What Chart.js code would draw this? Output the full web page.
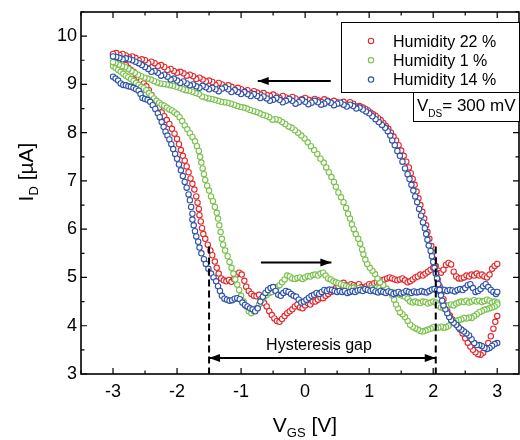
<!DOCTYPE html>
<html>
<head>
<meta charset="utf-8">
<script src="https://cdn.jsdelivr.net/npm/chart.js@4"></script>
<style>
  html, body { margin: 0; padding: 0; background: #fff; }
  #wrap { width: 520px; height: 440px; }
</style>
</head>
<body>
<div id="wrap"><canvas id="chart" width="520" height="440"></canvas></div>
<script>
// ------------------------------------------------------------
// ID vs VGS hysteresis loops for three humidity levels
// ------------------------------------------------------------

const FONT = "'Liberation Sans', Arial, sans-serif";

const seriesLabels = ["Humidity 22 %", "Humidity 1 %", "Humidity 14 %"];
const seriesColors = ["#e3282b", "#79c14b", "#2f52aa"];

const xTicks = [-3, -2, -1, 0, 1, 2, 3];
const yTicks = [3, 4, 5, 6, 7, 8, 9, 10];

// [VGS (V), ID (uA)] - forward sweep (-3 -> 3), low branch
const h22Fwd = [[-3.00,9.62],[-2.96,9.60],[-2.92,9.55],[-2.88,9.50],[-2.84,9.45],[-2.80,9.40],[-2.76,9.34],[-2.72,9.30],[-2.68,9.26],[-2.64,9.20],[-2.60,9.14],[-2.56,9.08],[-2.52,9.02],[-2.48,8.96],[-2.44,8.88],[-2.40,8.78],[-2.36,8.69],[-2.32,8.60],[-2.28,8.52],[-2.24,8.42],[-2.20,8.34],[-2.16,8.26],[-2.12,8.18],[-2.08,8.08],[-2.04,7.98],[-2.00,7.87],[-1.97,7.76],[-1.94,7.64],[-1.91,7.52],[-1.88,7.42],[-1.85,7.30],[-1.82,7.18],[-1.79,7.05],[-1.76,6.94],[-1.73,6.82],[-1.70,6.68],[-1.68,6.55],[-1.66,6.42],[-1.65,6.29],[-1.63,6.16],[-1.61,6.02],[-1.59,5.90],[-1.56,5.80],[-1.52,5.68],[-1.48,5.56],[-1.45,5.46],[-1.41,5.33],[-1.38,5.20],[-1.35,5.08],[-1.31,4.98],[-1.27,4.94],[-1.23,4.92],[-1.19,4.95],[-1.15,4.91],[-1.11,4.97],[-1.07,5.06],[-1.03,5.10],[-0.99,5.06],[-0.95,4.93],[-0.92,4.81],[-0.88,4.72],[-0.84,4.66],[-0.80,4.62],[-0.76,4.61],[-0.72,4.64],[-0.68,4.56],[-0.64,4.47],[-0.60,4.40],[-0.56,4.30],[-0.52,4.22],[-0.48,4.15],[-0.44,4.10],[-0.40,4.08],[-0.36,4.14],[-0.32,4.20],[-0.28,4.26],[-0.24,4.30],[-0.20,4.34],[-0.16,4.40],[-0.12,4.44],[-0.08,4.38],[-0.04,4.36],[0.00,4.42],[0.04,4.47],[0.08,4.44],[0.12,4.50],[0.16,4.50],[0.20,4.54],[0.24,4.58],[0.28,4.57],[0.32,4.62],[0.36,4.66],[0.40,4.70],[0.44,4.72],[0.48,4.78],[0.52,4.82],[0.56,4.86],[0.60,4.89],[0.64,4.84],[0.68,4.82],[0.72,4.86],[0.76,4.84],[0.80,4.82],[0.84,4.86],[0.88,4.80],[0.92,4.78],[0.96,4.82],[1.00,4.86],[1.04,4.84],[1.08,4.88],[1.12,4.90],[1.16,4.88],[1.20,4.94],[1.24,4.96],[1.28,4.98],[1.32,5.00],[1.36,4.98],[1.40,4.96],[1.44,4.94],[1.48,4.96],[1.52,4.98],[1.56,4.94],[1.60,4.90],[1.64,4.92],[1.68,4.96],[1.72,5.00],[1.76,5.02],[1.80,5.06],[1.84,5.04],[1.88,5.08],[1.92,5.12],[1.96,5.16],[2.00,5.20],[2.04,5.24],[2.08,5.14],[2.12,5.10],[2.16,5.16],[2.20,5.26],[2.24,5.30],[2.28,5.27],[2.32,5.12],[2.36,5.02],[2.40,4.98],[2.44,4.98],[2.48,5.00],[2.52,5.04],[2.56,5.02],[2.60,5.06],[2.64,5.04],[2.68,5.08],[2.72,5.04],[2.76,5.06],[2.80,5.02],[2.84,5.00],[2.88,5.06],[2.92,5.18],[2.96,5.24],[3.00,5.28]];
// backward sweep (3 -> -3), high branch
const h22Bwd = [[3.00,4.20],[2.97,4.08],[2.94,3.94],[2.90,3.78],[2.86,3.64],[2.82,3.52],[2.78,3.44],[2.74,3.40],[2.70,3.41],[2.66,3.45],[2.62,3.50],[2.58,3.57],[2.54,3.65],[2.50,3.74],[2.46,3.84],[2.42,3.92],[2.38,4.00],[2.34,4.07],[2.30,4.13],[2.26,4.21],[2.22,4.30],[2.19,4.42],[2.16,4.55],[2.13,4.68],[2.10,4.82],[2.07,4.96],[2.05,5.10],[2.03,5.24],[2.01,5.38],[1.99,5.52],[1.97,5.65],[1.94,5.80],[1.91,5.94],[1.89,6.08],[1.86,6.22],[1.83,6.36],[1.80,6.50],[1.77,6.64],[1.74,6.78],[1.71,6.92],[1.68,7.04],[1.65,7.16],[1.62,7.28],[1.58,7.40],[1.54,7.52],[1.50,7.63],[1.46,7.74],[1.42,7.84],[1.38,7.92],[1.34,8.00],[1.30,8.08],[1.26,8.14],[1.22,8.20],[1.18,8.26],[1.14,8.30],[1.10,8.35],[1.06,8.38],[1.02,8.42],[0.98,8.46],[0.94,8.49],[0.90,8.52],[0.85,8.55],[0.80,8.54],[0.75,8.60],[0.70,8.63],[0.65,8.58],[0.60,8.64],[0.55,8.61],[0.50,8.63],[0.45,8.66],[0.40,8.62],[0.35,8.66],[0.30,8.69],[0.25,8.64],[0.20,8.67],[0.15,8.70],[0.10,8.66],[0.05,8.68],[0.00,8.72],[-0.05,8.69],[-0.10,8.66],[-0.15,8.71],[-0.20,8.74],[-0.25,8.70],[-0.30,8.73],[-0.35,8.76],[-0.40,8.72],[-0.45,8.75],[-0.50,8.79],[-0.55,8.76],[-0.60,8.78],[-0.65,8.82],[-0.70,8.79],[-0.75,8.83],[-0.80,8.86],[-0.85,8.82],[-0.90,8.88],[-0.95,8.86],[-1.00,8.90],[-1.05,8.93],[-1.10,8.89],[-1.15,8.95],[-1.20,8.98],[-1.25,8.94],[-1.30,9.00],[-1.35,9.03],[-1.40,8.99],[-1.45,9.05],[-1.50,9.08],[-1.55,9.06],[-1.60,9.10],[-1.65,9.14],[-1.70,9.11],[-1.75,9.17],[-1.80,9.20],[-1.85,9.18],[-1.90,9.23],[-1.95,9.26],[-2.00,9.24],[-2.05,9.28],[-2.10,9.32],[-2.15,9.30],[-2.20,9.36],[-2.25,9.40],[-2.30,9.38],[-2.35,9.44],[-2.40,9.47],[-2.45,9.44],[-2.50,9.50],[-2.55,9.52],[-2.60,9.50],[-2.65,9.55],[-2.70,9.58],[-2.75,9.56],[-2.80,9.60],[-2.85,9.63],[-2.90,9.61],[-2.95,9.65],[-3.00,9.63]];

const h1Fwd = [[-3.00,9.38],[-2.96,9.34],[-2.92,9.30],[-2.88,9.26],[-2.84,9.22],[-2.80,9.18],[-2.76,9.15],[-2.72,9.11],[-2.68,9.07],[-2.64,9.03],[-2.60,8.99],[-2.56,8.95],[-2.52,8.92],[-2.48,8.88],[-2.44,8.82],[-2.40,8.77],[-2.36,8.71],[-2.32,8.66],[-2.28,8.62],[-2.24,8.58],[-2.20,8.56],[-2.16,8.52],[-2.12,8.48],[-2.08,8.46],[-2.04,8.42],[-2.00,8.38],[-1.96,8.32],[-1.92,8.24],[-1.88,8.15],[-1.84,8.07],[-1.80,7.99],[-1.76,7.91],[-1.72,7.82],[-1.69,7.72],[-1.66,7.62],[-1.64,7.50],[-1.62,7.38],[-1.60,7.26],[-1.58,7.14],[-1.56,7.02],[-1.53,6.90],[-1.50,6.80],[-1.47,6.68],[-1.44,6.58],[-1.41,6.46],[-1.38,6.34],[-1.36,6.22],[-1.34,6.08],[-1.32,5.94],[-1.30,5.80],[-1.28,5.68],[-1.25,5.56],[-1.21,5.44],[-1.18,5.32],[-1.15,5.20],[-1.12,5.08],[-1.09,4.96],[-1.06,4.85],[-1.03,4.74],[-1.00,4.62],[-0.96,4.50],[-0.92,4.40],[-0.88,4.30],[-0.84,4.26],[-0.80,4.30],[-0.76,4.36],[-0.72,4.44],[-0.68,4.54],[-0.64,4.60],[-0.60,4.64],[-0.56,4.68],[-0.52,4.70],[-0.48,4.74],[-0.44,4.80],[-0.40,4.84],[-0.36,4.90],[-0.32,4.96],[-0.28,5.04],[-0.24,5.02],[-0.20,4.98],[-0.16,4.97],[-0.12,4.99],[-0.08,5.00],[-0.04,4.97],[0.00,5.00],[0.04,5.03],[0.08,5.02],[0.12,5.05],[0.16,5.06],[0.20,5.04],[0.24,5.08],[0.28,5.10],[0.32,5.04],[0.36,4.98],[0.40,4.96],[0.44,4.92],[0.48,4.90],[0.52,4.88],[0.56,4.86],[0.60,4.84],[0.64,4.82],[0.68,4.80],[0.72,4.78],[0.76,4.79],[0.80,4.76],[0.84,4.78],[0.88,4.75],[0.92,4.74],[0.96,4.76],[1.00,4.74],[1.04,4.78],[1.08,4.76],[1.12,4.79],[1.16,4.78],[1.20,4.74],[1.24,4.72],[1.28,4.74],[1.32,4.70],[1.36,4.70],[1.40,4.68],[1.44,4.66],[1.48,4.64],[1.52,4.62],[1.56,4.60],[1.60,4.56],[1.64,4.50],[1.68,4.48],[1.72,4.50],[1.76,4.48],[1.80,4.47],[1.84,4.50],[1.88,4.49],[1.92,4.46],[1.96,4.48],[2.00,4.50],[2.04,4.48],[2.08,4.42],[2.12,4.38],[2.16,4.36],[2.20,4.40],[2.24,4.42],[2.28,4.44],[2.32,4.42],[2.36,4.46],[2.40,4.48],[2.44,4.50],[2.48,4.49],[2.52,4.52],[2.56,4.48],[2.60,4.50],[2.64,4.53],[2.68,4.50],[2.72,4.52],[2.76,4.49],[2.80,4.51],[2.84,4.54],[2.88,4.52],[2.92,4.48],[2.96,4.50],[3.00,4.48]];
const h1Bwd = [[3.00,4.44],[2.96,4.40],[2.92,4.38],[2.88,4.36],[2.84,4.34],[2.80,4.33],[2.76,4.30],[2.72,4.28],[2.68,4.24],[2.64,4.20],[2.60,4.16],[2.56,4.17],[2.52,4.15],[2.48,4.16],[2.44,4.13],[2.40,4.12],[2.36,4.10],[2.32,4.08],[2.28,4.05],[2.24,4.00],[2.20,3.97],[2.16,3.96],[2.12,3.98],[2.08,3.96],[2.04,3.95],[2.00,3.97],[1.96,3.94],[1.92,3.92],[1.88,3.90],[1.84,3.88],[1.80,3.89],[1.76,3.92],[1.72,3.95],[1.68,3.98],[1.64,4.02],[1.60,4.10],[1.56,4.18],[1.52,4.24],[1.48,4.28],[1.45,4.36],[1.42,4.44],[1.39,4.54],[1.36,4.63],[1.32,4.70],[1.27,4.77],[1.22,4.84],[1.17,4.90],[1.13,4.98],[1.09,5.07],[1.05,5.14],[1.01,5.20],[0.97,5.28],[0.94,5.37],[0.91,5.48],[0.89,5.58],[0.86,5.70],[0.83,5.80],[0.79,5.90],[0.76,6.00],[0.73,6.10],[0.70,6.22],[0.67,6.32],[0.64,6.44],[0.60,6.56],[0.56,6.66],[0.52,6.76],[0.48,6.88],[0.45,6.98],[0.41,7.08],[0.37,7.18],[0.33,7.28],[0.29,7.38],[0.24,7.46],[0.19,7.56],[0.14,7.64],[0.09,7.72],[0.04,7.80],[-0.01,7.88],[-0.06,7.94],[-0.11,8.00],[-0.16,8.05],[-0.21,8.10],[-0.26,8.13],[-0.31,8.18],[-0.36,8.22],[-0.41,8.26],[-0.46,8.28],[-0.51,8.27],[-0.56,8.32],[-0.61,8.35],[-0.66,8.37],[-0.71,8.40],[-0.76,8.43],[-0.81,8.45],[-0.86,8.47],[-0.91,8.50],[-0.96,8.52],[-1.01,8.53],[-1.06,8.55],[-1.11,8.58],[-1.16,8.60],[-1.21,8.62],[-1.26,8.63],[-1.31,8.64],[-1.36,8.66],[-1.41,8.68],[-1.46,8.70],[-1.51,8.71],[-1.56,8.73],[-1.61,8.75],[-1.66,8.80],[-1.71,8.82],[-1.76,8.85],[-1.81,8.87],[-1.86,8.88],[-1.91,8.90],[-1.96,8.93],[-2.01,8.95],[-2.06,8.97],[-2.11,8.98],[-2.16,9.00],[-2.21,9.01],[-2.26,9.02],[-2.31,9.04],[-2.36,9.07],[-2.41,9.10],[-2.46,9.12],[-2.51,9.14],[-2.56,9.17],[-2.61,9.20],[-2.66,9.24],[-2.71,9.28],[-2.76,9.32],[-2.81,9.36],[-2.86,9.38],[-2.91,9.41],[-2.96,9.44],[-3.00,9.46]];

const h14Fwd = [[-3.00,9.16],[-2.96,9.12],[-2.92,9.08],[-2.88,9.02],[-2.84,8.99],[-2.80,8.98],[-2.76,8.96],[-2.72,8.95],[-2.68,8.93],[-2.64,8.90],[-2.60,8.87],[-2.57,8.80],[-2.54,8.72],[-2.50,8.70],[-2.46,8.68],[-2.42,8.64],[-2.38,8.57],[-2.34,8.49],[-2.30,8.40],[-2.27,8.32],[-2.24,8.22],[-2.21,8.12],[-2.18,8.02],[-2.15,7.94],[-2.12,7.86],[-2.09,7.76],[-2.06,7.66],[-2.03,7.56],[-2.00,7.46],[-1.97,7.34],[-1.94,7.22],[-1.91,7.10],[-1.88,6.98],[-1.85,6.86],[-1.82,6.72],[-1.80,6.60],[-1.78,6.46],[-1.76,6.32],[-1.76,6.20],[-1.74,6.08],[-1.72,5.96],[-1.70,5.85],[-1.67,5.74],[-1.65,5.62],[-1.62,5.50],[-1.58,5.38],[-1.55,5.28],[-1.51,5.18],[-1.47,5.08],[-1.43,5.00],[-1.39,4.92],[-1.36,4.82],[-1.33,4.72],[-1.30,4.62],[-1.26,4.56],[-1.22,4.54],[-1.18,4.52],[-1.14,4.53],[-1.10,4.56],[-1.06,4.57],[-1.02,4.55],[-0.98,4.48],[-0.94,4.43],[-0.90,4.40],[-0.86,4.36],[-0.82,4.34],[-0.78,4.30],[-0.74,4.36],[-0.70,4.50],[-0.66,4.60],[-0.62,4.68],[-0.58,4.74],[-0.54,4.78],[-0.50,4.80],[-0.46,4.72],[-0.42,4.64],[-0.38,4.62],[-0.34,4.68],[-0.30,4.72],[-0.26,4.70],[-0.22,4.66],[-0.18,4.62],[-0.14,4.60],[-0.10,4.54],[-0.06,4.48],[-0.02,4.50],[0.02,4.54],[0.06,4.58],[0.10,4.62],[0.14,4.64],[0.18,4.68],[0.22,4.66],[0.26,4.70],[0.30,4.74],[0.34,4.72],[0.38,4.75],[0.42,4.74],[0.46,4.72],[0.50,4.70],[0.54,4.72],[0.58,4.70],[0.62,4.72],[0.66,4.68],[0.70,4.70],[0.74,4.72],[0.78,4.70],[0.82,4.73],[0.86,4.74],[0.90,4.72],[0.94,4.76],[0.98,4.74],[1.02,4.72],[1.06,4.74],[1.10,4.71],[1.14,4.69],[1.18,4.72],[1.22,4.70],[1.26,4.68],[1.30,4.71],[1.34,4.69],[1.38,4.66],[1.42,4.68],[1.46,4.70],[1.50,4.67],[1.54,4.69],[1.58,4.72],[1.62,4.70],[1.66,4.68],[1.70,4.71],[1.74,4.69],[1.78,4.70],[1.82,4.72],[1.86,4.70],[1.90,4.69],[1.94,4.72],[1.98,4.75],[2.02,4.76],[2.06,4.73],[2.10,4.72],[2.14,4.75],[2.18,4.74],[2.22,4.72],[2.26,4.74],[2.30,4.73],[2.34,4.71],[2.38,4.74],[2.42,4.76],[2.46,4.74],[2.50,4.78],[2.54,4.84],[2.58,4.86],[2.62,4.78],[2.66,4.70],[2.70,4.72],[2.74,4.76],[2.78,4.82],[2.82,4.86],[2.86,4.80],[2.90,4.74],[2.94,4.70],[2.98,4.66],[3.00,4.70]];
const h14Bwd = [[3.00,3.64],[2.96,3.62],[2.92,3.58],[2.88,3.54],[2.84,3.52],[2.80,3.54],[2.76,3.58],[2.72,3.60],[2.68,3.60],[2.64,3.64],[2.60,3.72],[2.56,3.80],[2.52,3.84],[2.48,3.88],[2.44,3.92],[2.40,3.96],[2.36,4.02],[2.32,4.06],[2.28,4.12],[2.25,4.18],[2.22,4.26],[2.19,4.34],[2.16,4.42],[2.14,4.52],[2.12,4.63],[2.10,4.74],[2.08,4.86],[2.06,4.98],[2.04,5.08],[2.02,5.20],[2.00,5.32],[1.98,5.44],[1.96,5.55],[1.93,5.66],[1.91,5.78],[1.89,5.90],[1.87,6.02],[1.84,6.14],[1.81,6.28],[1.78,6.42],[1.75,6.56],[1.72,6.68],[1.69,6.80],[1.66,6.92],[1.63,7.04],[1.60,7.14],[1.56,7.26],[1.52,7.40],[1.48,7.52],[1.44,7.62],[1.40,7.74],[1.36,7.84],[1.33,7.94],[1.29,8.03],[1.25,8.10],[1.20,8.16],[1.15,8.22],[1.10,8.28],[1.05,8.34],[1.00,8.40],[0.95,8.44],[0.90,8.48],[0.85,8.52],[0.80,8.50],[0.75,8.55],[0.70,8.58],[0.65,8.54],[0.60,8.58],[0.55,8.62],[0.50,8.60],[0.45,8.57],[0.40,8.62],[0.35,8.65],[0.30,8.60],[0.25,8.58],[0.20,8.63],[0.15,8.66],[0.10,8.62],[0.05,8.59],[0.00,8.64],[-0.05,8.68],[-0.10,8.63],[-0.15,8.60],[-0.20,8.66],[-0.25,8.70],[-0.30,8.66],[-0.35,8.63],[-0.40,8.68],[-0.45,8.72],[-0.50,8.68],[-0.55,8.66],[-0.60,8.71],[-0.65,8.75],[-0.70,8.72],[-0.75,8.76],[-0.80,8.80],[-0.85,8.76],[-0.90,8.80],[-0.95,8.84],[-1.00,8.80],[-1.05,8.84],[-1.10,8.88],[-1.15,8.84],[-1.20,8.90],[-1.25,8.94],[-1.30,8.91],[-1.35,8.86],[-1.40,8.90],[-1.45,8.93],[-1.50,8.90],[-1.55,8.94],[-1.60,8.97],[-1.65,8.93],[-1.70,8.96],[-1.75,9.00],[-1.80,8.98],[-1.85,9.02],[-1.90,9.06],[-1.95,9.03],[-2.00,9.08],[-2.05,9.12],[-2.10,9.10],[-2.15,9.16],[-2.20,9.20],[-2.25,9.18],[-2.30,9.24],[-2.35,9.28],[-2.40,9.26],[-2.45,9.32],[-2.50,9.36],[-2.55,9.40],[-2.60,9.44],[-2.65,9.47],[-2.70,9.50],[-2.75,9.52],[-2.80,9.54],[-2.85,9.52],[-2.90,9.55],[-2.95,9.57],[-3.00,9.58]];

const loops = [h22Fwd.concat(h22Bwd), h1Fwd.concat(h1Bwd), h14Fwd.concat(h14Bwd)];

function arrowHead(ctx, x, y, dir) {
  // dir: 1 = pointing right, -1 = pointing left
  ctx.beginPath();
  ctx.moveTo(x, y);
  ctx.lineTo(x - dir * 11, y - 4);
  ctx.lineTo(x - dir * 11, y + 4);
  ctx.closePath();
  ctx.fill();
}

function hArrow(ctx, x1, x2, y, heads) {
  ctx.beginPath();
  ctx.moveTo(x1, y);
  ctx.lineTo(x2, y);
  ctx.stroke();
  if (heads.includes("end")) arrowHead(ctx, x2, y, x2 > x1 ? 1 : -1);
  if (heads.includes("start")) arrowHead(ctx, x1, y, x1 > x2 ? 1 : -1);
}

// draws text pieces left to right, returns total width
function drawPieces(ctx, pieces, x, y, measureOnly) {
  let w = 0;
  pieces.forEach(p => {
    ctx.font = p.size + "px " + FONT;
    if (!measureOnly) ctx.fillText(p.t, x + w, y + (p.dy || 0));
    w += ctx.measureText(p.t).width;
  });
  return w;
}

const overlay = {
  id: "overlay",
  afterDatasetsDraw(chart) {
    const { ctx, chartArea: a, scales: { x, y } } = chart;
    const px = v => x.getPixelForValue(v);
    const py = v => y.getPixelForValue(v);
    ctx.save();
    ctx.strokeStyle = "#000";
    ctx.fillStyle = "#000";

    // frame
    ctx.lineWidth = 1.6;
    ctx.strokeRect(a.left, a.top, a.right - a.left, a.bottom - a.top);

    // inward ticks, major + minor
    ctx.lineWidth = 1.2;
    ctx.beginPath();
    xTicks.forEach(v => {
      [[v, 6], [v + 0.5, 3.5], [v - 0.5, 3.5]].forEach(([t, len]) => {
        if (t < x.min || t > x.max) return;
        const X = px(t);
        ctx.moveTo(X, a.bottom); ctx.lineTo(X, a.bottom - len);
        ctx.moveTo(X, a.top); ctx.lineTo(X, a.top + len);
      });
    });
    yTicks.forEach(v => {
      [[v, 6], [v + 0.5, 3.5]].forEach(([t, len]) => {
        if (t < y.min || t > y.max) return;
        const Y = py(t);
        ctx.moveTo(a.left, Y); ctx.lineTo(a.left + len, Y);
        ctx.moveTo(a.right, Y); ctx.lineTo(a.right - len, Y);
      });
    });
    ctx.stroke();

    // sweep direction arrows
    ctx.lineWidth = 2;
    hArrow(ctx, px(0.40), px(-0.74), py(9.07), ["end"]);
    hArrow(ctx, px(-0.69), px(0.41), py(5.31), ["end"]);

    // hysteresis gap markers
    ctx.setLineDash([7, 4]);
    [-1.5, 2.04].forEach(v => {
      ctx.beginPath();
      ctx.moveTo(px(v), py(5.64));
      ctx.lineTo(px(v), a.bottom);
      ctx.stroke();
    });
    ctx.setLineDash([]);
    hArrow(ctx, px(-1.5), px(2.04), py(3.33), ["start", "end"]);

    ctx.font = "16px " + FONT;
    ctx.textAlign = "center";
    ctx.textBaseline = "alphabetic";
    ctx.fillText("Hysteresis gap", 319, 350);

    // legend
    ctx.textAlign = "left";
    ctx.lineWidth = 1;
    ctx.fillStyle = "#fff";
    ctx.fillRect(341, 22, 178, 70);
    ctx.strokeRect(341.5, 22.5, 178, 70);
    seriesLabels.forEach((lab, i) => {
      const cy = 41 + i * 19.3;
      ctx.beginPath();
      ctx.arc(371, cy, 2.7, 0, Math.PI * 2);
      ctx.lineWidth = 1.1;
      ctx.strokeStyle = seriesColors[i];
      ctx.stroke();
      ctx.fillStyle = "#000";
      ctx.font = "16px " + FONT;
      ctx.fillText(lab, 393, cy + 5.5);
    });

    // V_DS box
    ctx.lineWidth = 1;
    ctx.strokeStyle = "#000";
    ctx.fillStyle = "#fff";
    ctx.fillRect(413, 92, 106, 29);
    ctx.strokeRect(413.5, 92.5, 106, 29);
    ctx.fillStyle = "#000";
    drawPieces(ctx, [{ t: "V", size: 17 }, { t: "DS", size: 10, dy: 6 }, { t: "= 300 mV", size: 17 }], 417, 111);

    // axis titles
    const xt = [{ t: "V", size: 21 }, { t: "GS", size: 13, dy: 5 }, { t: " [V]", size: 21 }];
    const xw = drawPieces(ctx, xt, 0, 0, true);
    drawPieces(ctx, xt, 305 - xw / 2, 432);

    const yt = [{ t: "I", size: 21 }, { t: "D", size: 13, dy: 5 }, { t: " [\u00b5A]", size: 21 }];
    const yw = drawPieces(ctx, yt, 0, 0, true);
    ctx.translate(33, 172);
    ctx.rotate(-Math.PI / 2);
    drawPieces(ctx, yt, -yw / 2, 0);

    ctx.restore();
  }
};

new Chart(document.getElementById("chart"), {
  type: "scatter",
  data: {
    datasets: loops.map((pts, i) => ({
      label: seriesLabels[i],
      data: pts.map(p => ({ x: p[0], y: p[1] })),
      borderColor: seriesColors[i],
      backgroundColor: "#fff",
      pointRadius: 2.7,
      pointBorderWidth: 1.1,
      order: [3, 2, 1][i]
    }))
  },
  options: {
    responsive: false,
    animation: false,
    layout: { autoPadding: false, padding: { top: 12, right: 1, left: 0, bottom: 0 } },
    plugins: { legend: { display: false }, tooltip: { enabled: false } },
    scales: {
      x: {
        type: "linear",
        min: -3.5,
        max: 3.34,
        afterBuildTicks: s => { s.ticks = xTicks.map(v => ({ value: v })); },
        afterFit: s => { s.height = 66; s.paddingLeft = 0; s.paddingRight = 0; },
        grid: { display: false, drawTicks: false },
        border: { display: false },
        ticks: { color: "#000", font: { size: 18, family: FONT }, padding: 7, maxRotation: 0, autoSkip: false }
      },
      y: {
        type: "linear",
        min: 3,
        max: 10.5,
        afterBuildTicks: s => { s.ticks = yTicks.map(v => ({ value: v })); },
        afterFit: s => { s.width = 81; s.paddingTop = 0; s.paddingBottom = 0; },
        grid: { display: false, drawTicks: false },
        border: { display: false },
        ticks: { color: "#000", font: { size: 18, family: FONT }, padding: 4, autoSkip: false }
      }
    }
  },
  plugins: [overlay]
});
</script>
</body>
</html>
